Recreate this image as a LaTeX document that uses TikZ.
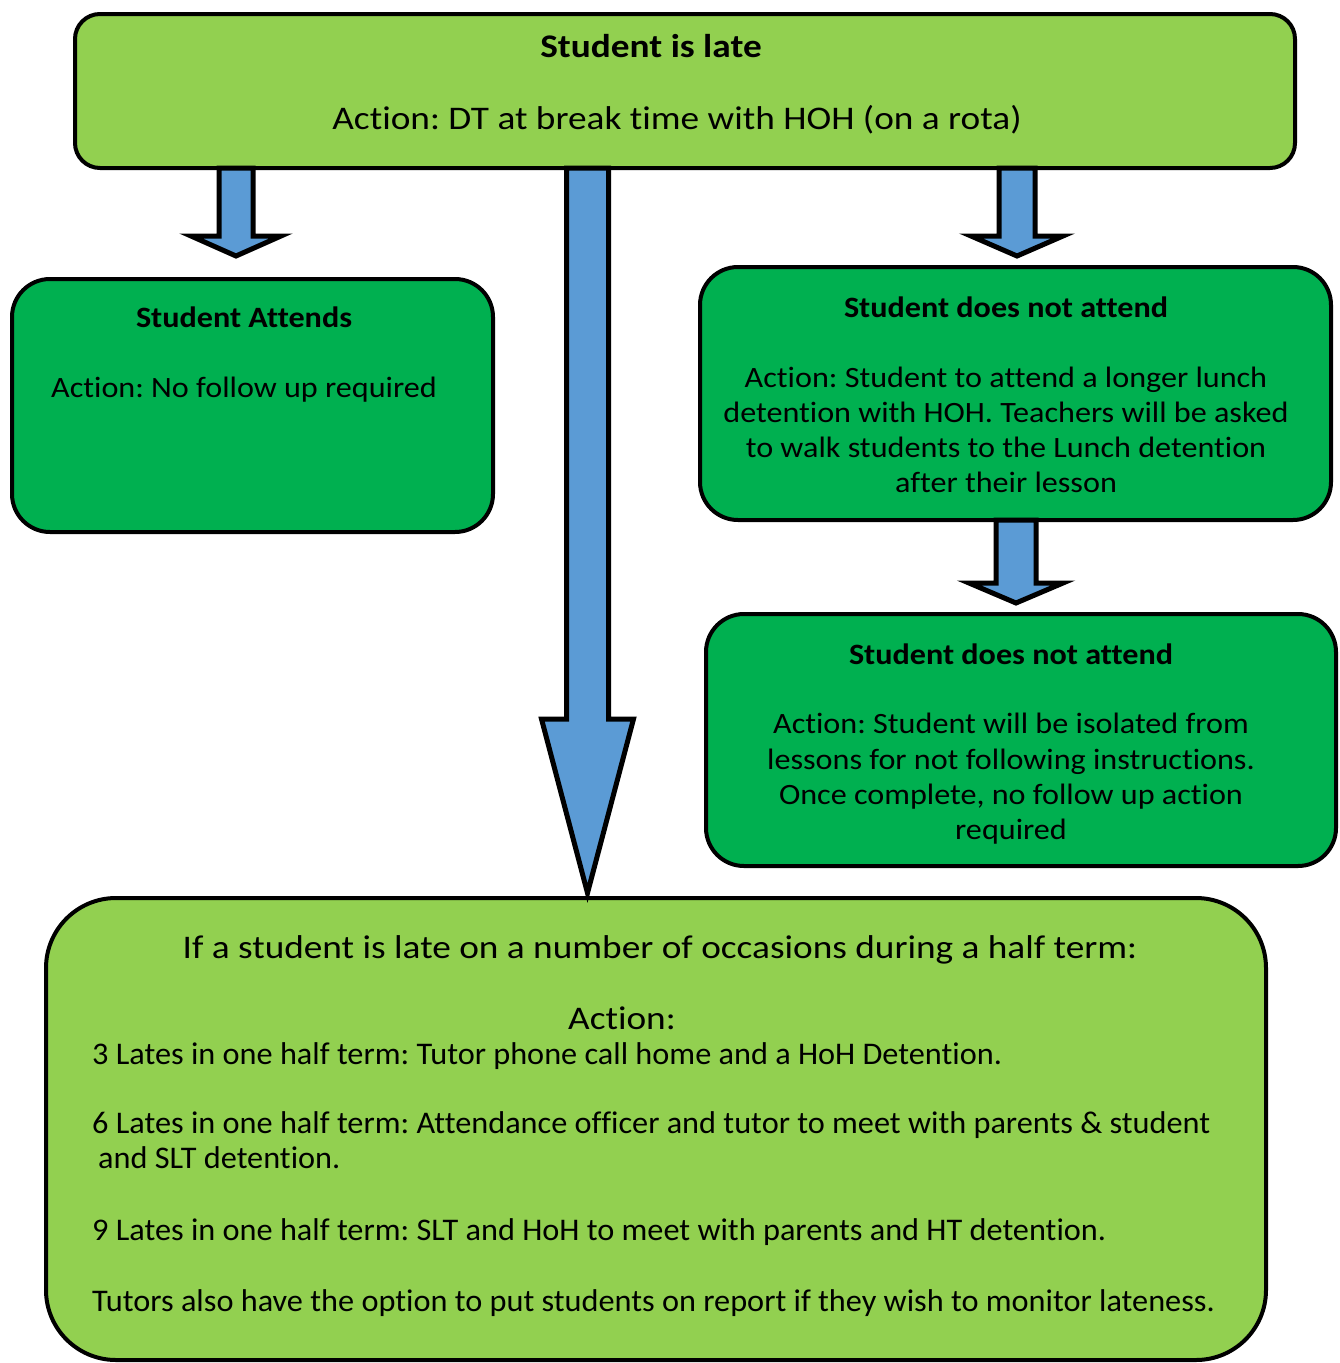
\documentclass[tikz,border=0pt]{standalone}
\usepackage{fontspec}
\setmainfont{Carlito}[Ligatures=CommonOff]
\newfontfamily\headfont{Carlito}[FakeStretch=1.13,Ligatures=CommonOff]
\newfontfamily\midfont{Carlito}[FakeStretch=1.09,Ligatures=CommonOff]
\newfontfamily\bodyfont{Carlito}[FakeStretch=1.025,Ligatures=CommonOff]
\definecolor{lgreen}{HTML}{92D050}
\definecolor{dgreen}{HTML}{00B050}
\definecolor{barblue}{HTML}{5B9BD5}
\newcommand\blockarrow[6]{% xc, y0, yw, ytip, shaft half, head half
  \draw[arrowsty] ({#1-#5},#2) -- ({#1-#5},#3) -- ({#1-#6},#3) -- (#1,#4)
    -- ({#1+#6},#3) -- ({#1+#5},#3) -- ({#1+#5},#2) -- cycle;}
\frenchspacing
\begin{document}
\begin{tikzpicture}[x=1pt,y=-1pt,
  box/.style={draw=black,line width=4pt,rectangle,inner sep=0pt},
  arrowsty/.style={draw=black,fill=barblue,line width=5pt,line join=miter},
  bigtxt/.style={font=\headfont\fontsize{33}{35}\selectfont,inner sep=0pt},
  midtxt/.style={font=\midfont\fontsize{29.5}{35}\selectfont,inner sep=0pt},
  bodytxt/.style={font=\bodyfont\fontsize{31.5}{35}\selectfont,inner sep=0pt}]
\useasboundingbox (0,0) rectangle (1340,1363);
\fill[white] (0,0) rectangle (1340,1363);
% boxes
\node[box,fill=lgreen,rounded corners=25pt,minimum width=1220pt,minimum height=154pt] (top) at (685,91) {};
\node[box,fill=dgreen,rounded corners=38pt,minimum width=481pt,minimum height=253pt] (attend) at (252.5,405.5) {};
\node[box,fill=dgreen,rounded corners=38pt,minimum width=631pt,minimum height=253pt] (dna1) at (1015.5,393.5) {};
\node[box,fill=dgreen,rounded corners=38pt,minimum width=630pt,minimum height=252pt] (dna2) at (1021,740) {};
\node[box,fill=lgreen,rounded corners=70pt,minimum width=1220pt,minimum height=462pt] (bottom) at (656,1129) {};
% arrows
\blockarrow{236}{168}{236}{256}{17}{45}
\blockarrow{587.5}{168}{719}{893}{21}{46}
\blockarrow{1017}{168}{236}{256}{18}{46}
\blockarrow{1016}{520}{583}{603}{20}{47}
% top text
\node[bigtxt,anchor=base] (t1) at (651,57) {\textbf{Student is late}};
\node[bigtxt,anchor=base] (t2) at (677,129) {Action: DT at break time with HOH (on a rota)};
% attend text
\node[midtxt,anchor=base] (a1) at (244,327) {\textbf{Student Attends}};
\node[midtxt,anchor=base] (a2) at (244,397) {Action: No follow up required};
% dna1 text
\node[midtxt,anchor=base] (b1) at (1006,317) {\textbf{Student does not attend}};
\node[midtxt,anchor=base] (b2) at (1006,387) {Action: Student to attend a longer lunch};
\node[midtxt,anchor=base] (b3) at (1006,422) {detention with HOH. Teachers will be asked};
\node[midtxt,anchor=base] (b4) at (1006,457) {to walk students to the Lunch detention};
\node[midtxt,anchor=base] (b5) at (1006,492) {after their lesson};
% dna2 text
\node[midtxt,anchor=base] (c1) at (1011,664) {\textbf{Student does not attend}};
\node[midtxt,anchor=base] (c2) at (1011,733) {Action: Student will be isolated from};
\node[midtxt,anchor=base] (c3) at (1011,769) {lessons for not following instructions.};
\node[midtxt,anchor=base] (c4) at (1011,804) {Once complete, no follow up action};
\node[midtxt,anchor=base] (c5) at (1011,839) {required};
% bottom text
\node[bigtxt,anchor=base] (d1) at (660,958) {If a student is late on a number of occasions during a half term:};
\node[bigtxt,anchor=base] (d2) at (622,1029) {Action:};
\node[bodytxt,anchor=base west] (d3) at (92,1064) {3 Lates in one half term: Tutor phone call home and a HoH Detention.};
\node[bodytxt,anchor=base west] (d4) at (92,1133) {6 Lates in one half term: Attendance officer and tutor to meet with parents \& student};
\node[bodytxt,anchor=base west] (d5) at (98,1168) {and SLT detention.};
\node[bodytxt,anchor=base west] (d6) at (92,1240) {9 Lates in one half term: SLT and HoH to meet with parents and HT detention.};
\node[bodytxt,anchor=base west] (d7) at (92,1311) {Tutors also have the option to put students on report if they wish to monitor lateness.};
\end{tikzpicture}
\end{document}
